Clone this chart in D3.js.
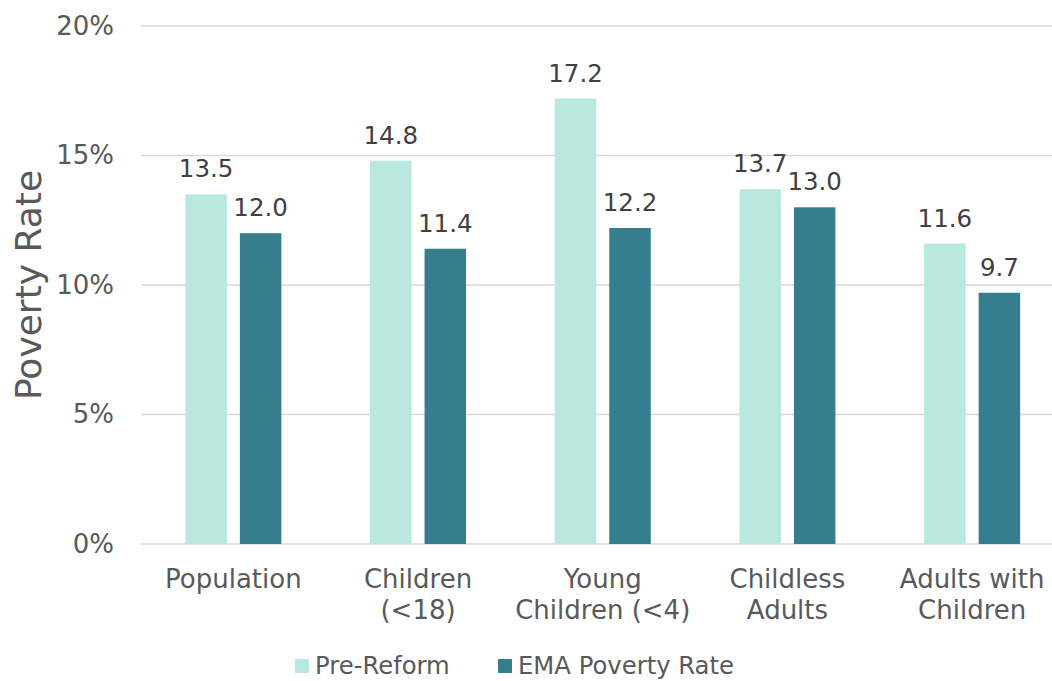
<!DOCTYPE html>
<html>
<head>
<meta charset="utf-8">
<script src="https://cdn.jsdelivr.net/npm/d3@7"></script>
<style>
  html, body { margin: 0; padding: 0; background: #fff; }
  svg { display: block; font-family: "DejaVu Sans", Verdana, sans-serif; }
</style>
</head>
<body>
<svg id="chart" width="1052" height="681"></svg>
<script>
// Poverty rate by group, before and after the reform
const categories = [["Population"], ["Children", "(<18)"], ["Young", "Children (<4)"], ["Childless", "Adults"], ["Adults with", "Children"]];
const seriesNames = ["Pre-Reform", "EMA Poverty Rate"];
const preReform = [13.5, 14.8, 17.2, 13.7, 11.6];
const emaRate = [12.0, 11.4, 12.2, 13.0, 9.7];
const yTicks = [0, 5, 10, 15, 20];
const colors = ["#b9e8de", "#367e8e"];

const svg = d3.select("#chart");
const plot = { left: 141, right: 1064.5, top: 26, bottom: 544 };

const x = d3.scaleBand()
  .domain(d3.range(categories.length))
  .range([plot.left, plot.right])
  .paddingInner(0).paddingOuter(0);

const y = d3.scaleLinear().domain([0, 20]).range([plot.bottom, plot.top]);

const barW = 41.5, barGap = 13;
const sub = d3.scaleOrdinal().domain([0, 1]).range([-(barW + barGap / 2), barGap / 2]);

// gridlines
svg.append("g")
  .selectAll("line")
  .data(yTicks)
  .join("line")
  .attr("x1", plot.left).attr("x2", 1052)
  .attr("y1", d => y(d)).attr("y2", d => y(d))
  .attr("stroke", "#d9d9d9").attr("stroke-width", 1.6);

// y axis tick labels
const yAxis = d3.axisLeft(y).tickValues(yTicks).tickFormat(d => d + "%").tickSize(0).tickPadding(0);
svg.append("g")
  .attr("transform", `translate(114,0)`)
  .call(yAxis)
  .call(g => g.select(".domain").remove())
  .call(g => g.selectAll("text")
    .attr("font-family", "DejaVu Sans, Verdana, sans-serif")
    .attr("font-size", 26)
    .attr("fill", "#595959"));

// y axis title
svg.append("text")
  .attr("transform", `translate(41,285) rotate(-90)`)
  .attr("text-anchor", "middle")
  .attr("font-size", 36)
  .attr("fill", "#595959")
  .text("Poverty Rate");

// bars
const series = [preReform, emaRate];
series.forEach((vals, si) => {
  const g = svg.append("g");
  g.selectAll("rect")
    .data(vals)
    .join("rect")
    .attr("x", (d, i) => x(i) + x.bandwidth() / 2 + sub(si))
    .attr("width", barW)
    .attr("y", d => y(d))
    .attr("height", d => y(0) - y(d))
    .attr("fill", colors[si]);
  g.selectAll("text")
    .data(vals)
    .join("text")
    .attr("x", (d, i) => x(i) + x.bandwidth() / 2 + sub(si) + barW / 2)
    .attr("y", d => y(d) - 17)
    .attr("text-anchor", "middle")
    .attr("font-size", 24.5)
    .attr("fill", "#404040")
    .text(d => d.toFixed(1));
});

// category labels
const cat = svg.append("g")
  .selectAll("text")
  .data(categories)
  .join("text")
  .attr("x", (d, i) => x(i) + x.bandwidth() / 2)
  .attr("y", 588)
  .attr("text-anchor", "middle")
  .attr("font-size", 26)
  .attr("fill", "#595959");
cat.selectAll("tspan")
  .data(d => d)
  .join("tspan")
  .attr("x", function () { return d3.select(this.parentNode).attr("x"); })
  .attr("dy", (d, i) => i === 0 ? 0 : 31)
  .text(d => d);

// legend
const legendItems = [{ x: 295, name: seriesNames[0], c: colors[0] }, { x: 498, name: seriesNames[1], c: colors[1] }];
const lg = svg.append("g");
lg.selectAll("rect")
  .data(legendItems)
  .join("rect")
  .attr("x", d => d.x).attr("y", 659)
  .attr("width", 14).attr("height", 14)
  .attr("fill", d => d.c);
lg.selectAll("text")
  .data(legendItems)
  .join("text")
  .attr("x", d => d.x + 20).attr("y", 674)
  .attr("font-size", 24.3)
  .attr("fill", "#595959")
  .text(d => d.name);
</script>
</body>
</html>
